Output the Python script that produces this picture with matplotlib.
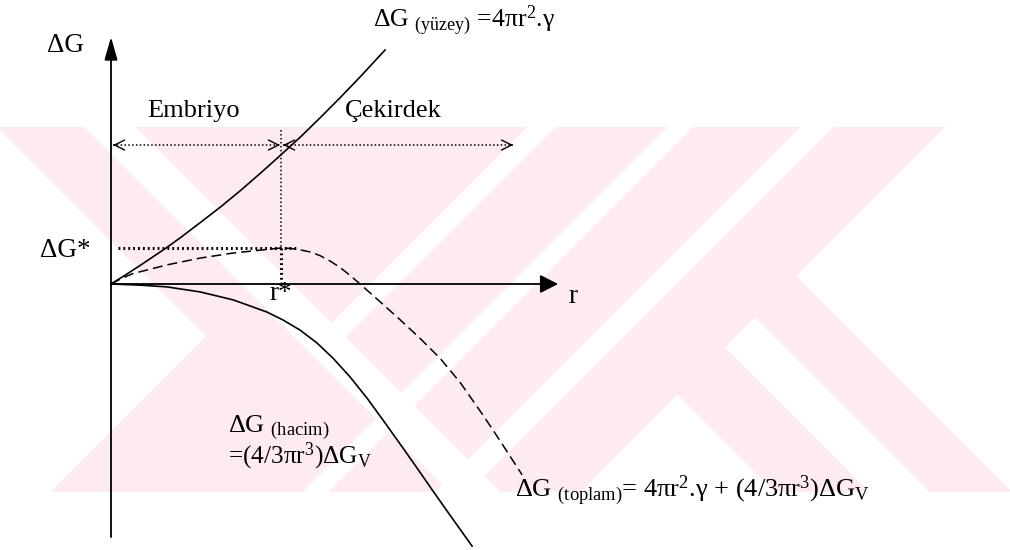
import numpy as np
import matplotlib
matplotlib.use("Agg")
import matplotlib.pyplot as plt

plt.rcParams.update({
    "font.family": ["Liberation Serif", "DejaVu Serif"],
    "mathtext.fontset": "custom",
    "mathtext.rm": "Liberation Serif",
    "mathtext.it": "Liberation Serif:italic",
    "mathtext.bf": "Liberation Serif:bold",
})

# Radius in units of r*, free energy in units of ΔG*
r_star = 1.0
dG_star = 1.0

# Surface term ΔG(yüzey) = 4πr²γ
r_surface = [0.0, 0.088, 0.176, 0.324, 0.412, 0.529, 0.647, 0.765, 0.882,
             1.0, 1.118, 1.235, 1.353, 1.471, 1.612]
dG_surface = [0.0, 0.26, 0.53, 1.0, 1.30, 1.72, 2.15, 2.61, 3.09,
              3.59, 4.10, 4.64, 5.20, 5.78, 6.50]

# Total ΔG(toplam)
r_total = [0.0, 0.065, 0.129, 0.329, 0.524, 0.718, 0.918, 1.0, 1.053, 1.112,
           1.171, 1.229, 1.288, 1.347, 1.406, 1.465, 1.582, 1.7, 1.818, 1.935,
           2.053, 2.188, 2.288, 2.418]
dG_total = [0.0, 0.16, 0.29, 0.53, 0.72, 0.86, 0.96, 1.0, 0.99, 0.95,
            0.89, 0.79, 0.64, 0.46, 0.24, 0.0, -0.49, -0.99, -1.51, -2.06,
            -2.73, -3.64, -4.35, -5.30]

# Volume term ΔG(hacim) = (4/3πr³)ΔGv
r_volume = [0.0, 0.165, 0.329, 0.524, 0.718, 0.918, 1.012, 1.112, 1.212,
            1.306, 1.406, 1.506, 1.6, 1.7, 1.8, 1.894, 1.994, 2.124]
dG_volume = [0.0, -0.03, -0.08, -0.22, -0.44, -0.78, -1.0, -1.28, -1.64,
             -2.06, -2.58, -3.17, -3.78, -4.44, -5.11, -5.75, -6.42, -7.28]

# ---- layout (pixels) ----
W, H = 1010, 550
X0, Y0 = 111, 284          # origin
RPX, GPX = 170, 36         # pixels per unit r*, per unit ΔG*

fig = plt.figure(figsize=(W / 100, H / 100), dpi=100)

# background layer in pixel coordinates
bg = fig.add_axes([0, 0, 1, 1])
bg.set_xlim(0, W)
bg.set_ylim(H, 0)
bg.axis("off")

yy, xx = np.mgrid[0:H, 0:W]
yy = yy + 0.5
xx = xx + 0.5
s = xx + yy
d = xx - yy
band = (yy >= 127) & (yy <= 492)
left_part = ((s <= 1072)
             & ~((d < -130) & (s < 543))
             & ~((d >= -42) & (d <= 8))
             & ~((s >= 655) & (s <= 682) & (d > 5))
             & ~((s >= 795) & (s <= 820))
             & ~((s >= 928) & (s <= 960)))
right_part = (s > 1072) & (((d >= 283) & (d <= 377)) | ((d >= 438) & (d <= 520)))
mask = band & (left_part | right_part)
img = np.ones((H, W, 3))
img[mask] = np.array([253, 235, 239]) / 255.0
bg.imshow(img, extent=(0, W, H, 0), interpolation="bilinear", zorder=0)

# main diagram layer
ax = fig.add_axes([0, 0, 1, 1], zorder=2)
ax.patch.set_alpha(0)
ax.axis("off")
ax.set_xlim(-X0 / RPX, (W - X0) / RPX)
ax.set_ylim((Y0 - H) / GPX, Y0 / GPX)

axis_r_end = 2.63
axis_g_top = 6.86
axis_g_bottom = -7.03
arrow_level = 3.86
region_left = 0.012
region_right = 2.365
marker_top = 4.28
star_line_left = 0.04
star_line_right = 1.10

k = "black"

# axes with arrowheads
ax.annotate("", xy=(0, axis_g_top), xytext=(0, axis_g_bottom),
            arrowprops=dict(arrowstyle="-|>,head_length=0.7,head_width=0.2",
                            lw=1.3, color=k, mutation_scale=20,
                            shrinkA=0, shrinkB=0))
ax.annotate("", xy=(axis_r_end, 0), xytext=(0, 0),
            arrowprops=dict(arrowstyle="-|>,head_length=0.55,head_width=0.28",
                            lw=1.3, color=k, mutation_scale=20,
                            shrinkA=0, shrinkB=0))

# curves
ax.plot(r_surface, dG_surface, color=k, lw=1.2, solid_joinstyle="round")
ax.plot(r_volume, dG_volume, color=k, lw=1.2, solid_joinstyle="round")
ax.plot(r_total, dG_total, color=k, lw=1.1, dashes=(6.5, 3.3))

# critical radius and barrier markers
ax.plot([r_star, r_star], [marker_top, dG_star], color=k, lw=1.1,
        linestyle=(0, (1, 1.6)), dash_capstyle="butt")
ax.plot([r_star, r_star], [dG_star, 0], color=k, lw=2.2,
        linestyle=(0, (0.6, 1.0)), dash_capstyle="butt")
ax.plot([star_line_left, star_line_right], [dG_star, dG_star], color=k, lw=2.2,
        linestyle=(0, (0.6, 1.0)), dash_capstyle="butt")

# embryo / nucleus ranges
def head(x_tip, y, direction):
    ax.annotate("", xy=(x_tip, y), xytext=(x_tip - direction * 0.01, y),
                arrowprops=dict(arrowstyle="->,head_length=0.6,head_width=0.3",
                                lw=1.0, color=k, mutation_scale=12,
                                shrinkA=0, shrinkB=0))

for a, b in [(region_left, 0.994), (1.012, region_right)]:
    ax.plot([a, b], [arrow_level, arrow_level], color=k, lw=1.1,
            linestyle=(0, (1, 1.5)), dash_capstyle="butt")
    head(a, arrow_level, -1)
    head(b, arrow_level, 1)

# labels (pixel positions, baseline aligned)
def label(x, y, text, size):
    bg.text(x, y, text, fontsize=size, va="baseline", ha="left", color=k,
            zorder=3)

label(47, 52, "ΔG", 19.5)
label(40, 257, "ΔG*", 19.5)
label(147, 117, "Embriyo", 19)
label(345, 117, "Çekirdek", 19)
label(568, 303, "r", 19.5)
label(269, 300, "r*", 19.5)
label(373, 27, r"ΔG $_{\mathrm{(yüzey)}}$ =4πr$^{2}$.γ", 18.5)
label(228, 432, r"ΔG $_{\mathrm{(hacim)}}$", 19)
label(228, 463, r"=(4/3πr$^{3}$)ΔG$_{\mathrm{V}}$", 18.3)
label(515, 497, r"ΔG $_{\mathrm{(toplam)}}$= 4πr$^{2}$.γ + (4/3πr$^{3}$)ΔG$_{\mathrm{V}}$", 19)

fig.savefig("out.png", dpi=100)
